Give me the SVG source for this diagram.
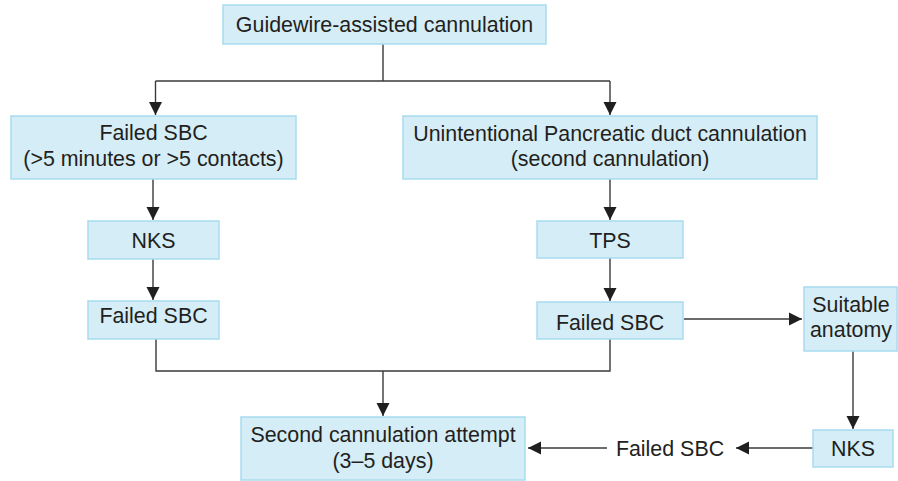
<svg xmlns="http://www.w3.org/2000/svg" width="898" height="481" viewBox="0 0 898 481">
<style>
.box{fill:#d5edf6;stroke:#a8dcef;stroke-width:1.5}
.t{font-family:"Liberation Sans",Arial,sans-serif;font-size:21.4px;fill:#231f20;text-anchor:middle}
.c{fill:none;stroke:#3a3a3a;stroke-width:1.4}
.a{fill:none;stroke:#3a3a3a;stroke-width:1.4;marker-end:url(#ah)}
</style>
<defs>
<marker id="ah" markerUnits="userSpaceOnUse" markerWidth="14" markerHeight="14" viewBox="0 0 14 14" refX="13" refY="7" orient="auto">
<path d="M0,0.5 L13,7 L0,13.5 Z" fill="#1f1f1f"/>
</marker>
</defs>
<rect width="898" height="481" fill="#ffffff"/>
<g id="connectors">
<path class="c" d="M383,44 V81 M155.5,81 H610"/>
<path class="a" d="M155.5,81 V115"/>
<path class="a" d="M610,81 V115"/>
<path class="a" d="M153,179 V220"/>
<path class="a" d="M153,259 V300"/>
<path class="c" d="M156,339 V371 H610 V339"/>
<path class="a" d="M383,371 V416"/>
<path class="a" d="M610,179 V220"/>
<path class="a" d="M610,258 V301"/>
<path class="a" d="M684,319 H802"/>
<path class="a" d="M853,351 V429"/>
<path class="a" d="M813,448 H736"/>
<path class="a" d="M607,448 H528"/>
</g>
<g id="guidewire">
<rect class="box" x="223" y="5" width="323" height="39"/>
<text class="t" x="384.5" y="32">Guidewire-assisted cannulation</text>
</g>
<g id="failed-sbc-1">
<rect class="box" x="11" y="116" width="285" height="63"/>
<text class="t" x="153.5" y="140">Failed SBC</text>
<text class="t" x="153.5" y="166">(&gt;5 minutes or &gt;5 contacts)</text>
</g>
<g id="unintentional-pd">
<rect class="box" x="403" y="116" width="414" height="63"/>
<text class="t" x="610" y="141">Unintentional Pancreatic duct cannulation</text>
<text class="t" x="610" y="166">(second cannulation)</text>
</g>
<g id="nks-1">
<rect class="box" x="88" y="221" width="131" height="38"/>
<text class="t" x="153.5" y="248">NKS</text>
</g>
<g id="tps">
<rect class="box" x="537" y="221" width="146" height="37"/>
<text class="t" x="610" y="248">TPS</text>
</g>
<g id="failed-sbc-2">
<rect class="box" x="88" y="301" width="131" height="38"/>
<text class="t" x="153.5" y="323">Failed SBC</text>
</g>
<g id="failed-sbc-3">
<rect class="box" x="537" y="302" width="146" height="37"/>
<text class="t" x="610" y="330">Failed SBC</text>
</g>
<g id="suitable-anatomy">
<rect class="box" x="804" y="287" width="93" height="64"/>
<text class="t" x="851" y="312">Suitable</text>
<text class="t" x="851" y="337">anatomy</text>
</g>
<g id="nks-2">
<rect class="box" x="813" y="430" width="80" height="37"/>
<text class="t" x="853" y="456">NKS</text>
</g>
<g id="failed-sbc-4">
<text class="t" x="670" y="456">Failed SBC</text>
</g>
<g id="second-attempt">
<rect class="box" x="241" y="417" width="284" height="63"/>
<text class="t" x="383" y="442">Second cannulation attempt</text>
<text class="t" x="383" y="468">(3–5 days)</text>
</g>
</svg>
